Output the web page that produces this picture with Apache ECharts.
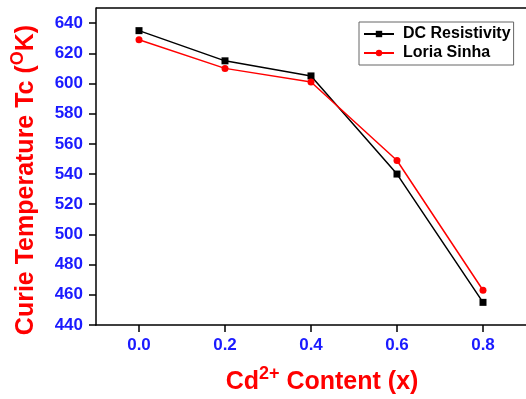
<!DOCTYPE html>
<html>
<head>
<meta charset="utf-8">
<script src="https://cdn.jsdelivr.net/npm/echarts@6/dist/echarts.min.js"></script>
<style>
html, body { margin: 0; padding: 0; background: #fff; }
#chart { width: 526px; height: 399px; }
</style>
</head>
<body>
<div id="chart"></div>
<script>
// Cd content (x) and Curie temperature (K)
var contentX = [0.0, 0.2, 0.4, 0.6, 0.8];
var dcResistivity = [635, 615, 605, 540, 455];
var loriaSinha = [629, 610, 601, 549, 463];
var seriesNames = ['DC Resistivity', 'Loria Sinha'];
var xTicks = [0, 0.2, 0.4, 0.6, 0.8];
var yTicks = [440, 460, 480, 500, 520, 540, 560, 580, 600, 620, 640];

function pairs(ys) {
  return contentX.map(function (x, i) { return [x, ys[i]]; });
}

var font = 'Liberation Sans, Arial, sans-serif';
var titleRich = {
  m: { fill: '#ff0000', fontSize: 25, fontWeight: 'bold', fontFamily: font, lineHeight: 30, verticalAlign: 'bottom' },
  s: { fill: '#ff0000', fontSize: 18, fontWeight: 'bold', fontFamily: font, lineHeight: 30, verticalAlign: 'top' }
};

var chart = echarts.init(document.getElementById('chart'));
var option = {
  animation: false,
  textStyle: { fontFamily: font },
  grid: { left: 96, top: 8, width: 433, height: 317 },
  legend: {
    data: seriesNames,
    orient: 'vertical',
    left: 359,
    top: 22,
    padding: [4, 3, 4, 4],
    itemGap: 3,
    itemWidth: 30,
    itemHeight: 8,
    borderColor: '#666',
    borderWidth: 1,
    borderRadius: 0,
    textStyle: { color: '#000', fontWeight: 'bold', fontSize: 16, lineHeight: 16, padding: [0, 0, 0, 4], fontFamily: font }
  },
  xAxis: {
    type: 'value',
    min: -0.1,
    max: 0.9,
    splitLine: { show: false },
    axisLine: { onZero: false, lineStyle: { color: '#000', width: 1.5 } },
    axisTick: { show: true, length: 7, lineStyle: { color: '#000', width: 1.5 }, customValues: xTicks },
    axisLabel: {
      margin: 12,
      color: '#1a1aff',
      fontWeight: 'bold',
      fontSize: 17,
      fontFamily: font,
      customValues: xTicks,
      formatter: function (v) { return v.toFixed(1); }
    }
  },
  yAxis: {
    type: 'value',
    min: 440,
    max: 650,
    splitLine: { show: false },
    axisLine: { show: true, onZero: false, lineStyle: { color: '#000', width: 1.5 } },
    axisTick: { show: true, length: 7, lineStyle: { color: '#000', width: 1.5 }, customValues: yTicks },
    axisLabel: {
      margin: 13,
      color: '#1a1aff',
      fontWeight: 'bold',
      fontSize: 17,
      fontFamily: font,
      customValues: yTicks
    }
  },
  graphic: [
    {
      type: 'text',
      x: 322,
      y: 380,
      style: {
        text: '{m|Cd}{s|2+}{m| Content (x)}',
        align: 'center',
        verticalAlign: 'middle',
        rich: titleRich
      }
    },
    {
      type: 'text',
      x: 24,
      y: 180,
      rotation: Math.PI / 2,
      style: {
        text: '{m|Curie Temperature Tc (}{s|O}{m|K)}',
        align: 'center',
        verticalAlign: 'middle',
        rich: titleRich
      }
    },
    {
      type: 'line',
      shape: { x1: 96, y1: 8, x2: 526, y2: 8 },
      style: { stroke: '#000', lineWidth: 1.5 }
    }
  ],
  series: [
    {
      name: seriesNames[0],
      type: 'line',
      data: pairs(dcResistivity),
      symbol: 'rect',
      symbolSize: 7,
      color: '#000',
      lineStyle: { color: '#000', width: 1.5 },
      itemStyle: { color: '#000' }
    },
    {
      name: seriesNames[1],
      type: 'line',
      data: pairs(loriaSinha),
      symbol: 'circle',
      symbolSize: 7,
      color: '#ff0000',
      lineStyle: { color: '#ff0000', width: 1.5 },
      itemStyle: { color: '#ff0000' }
    }
  ]
};
chart.setOption(option, true);
</script>
</body>
</html>
